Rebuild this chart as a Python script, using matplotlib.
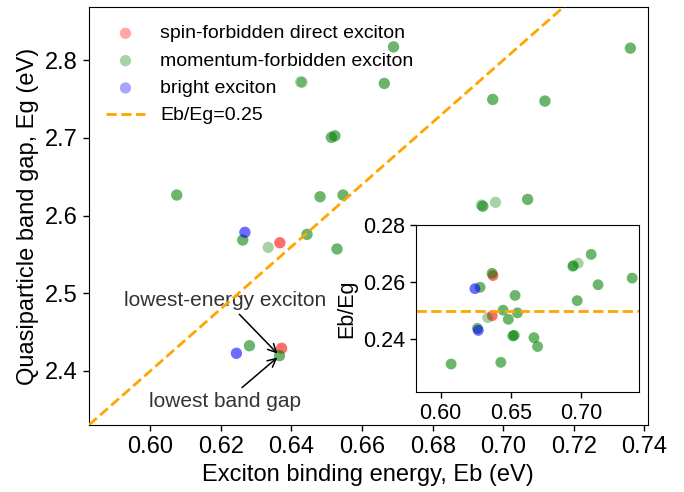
import numpy as np
import matplotlib
matplotlib.use("Agg")
import matplotlib.pyplot as plt

plt.rcParams['font.family'] = ['Liberation Sans', 'DejaVu Sans']

# Exciton binding energy Eb (eV) and quasiparticle band gap Eg (eV), by exciton type.
# Repeated entries are materials that appear in more than one data set.
spin_eb = [0.6367, 0.6367, 0.6372, 0.6372]
spin_eg = [2.565, 2.565, 2.4292, 2.4292]

momentum_eb = [0.6075, 0.6075, 0.6262, 0.6262, 0.6281, 0.6281, 0.6334,
               0.6366, 0.6366, 0.6444, 0.6444, 0.6481, 0.6481, 0.6513, 0.6513,
               0.6523, 0.6523, 0.6529, 0.6529, 0.6546, 0.6546, 0.6426, 0.6430,
               0.6663, 0.6663, 0.6689, 0.6689, 0.6942, 0.6942, 0.6938, 0.6978,
               0.7069, 0.7069, 0.6970, 0.6970, 0.7118, 0.7118, 0.7360, 0.7360]
momentum_eg = [2.6264, 2.6264, 2.5685, 2.5685, 2.4325, 2.4325, 2.5590,
               2.4197, 2.4197, 2.5758, 2.5758, 2.6242, 2.6242, 2.7006, 2.7006,
               2.7026, 2.7026, 2.5570, 2.5570, 2.6264, 2.6264, 2.7720, 2.7716,
               2.7700, 2.7700, 2.8170, 2.8170, 2.6120, 2.6120, 2.6135, 2.6170,
               2.6208, 2.6208, 2.7494, 2.7494, 2.7473, 2.7473, 2.8154, 2.8154]

bright_eb = [0.6268, 0.6268, 0.6244, 0.6244]
bright_eg = [2.5784, 2.5784, 2.4228, 2.4228]

ratio_ref = 0.25
lowest_gap = (0.6366, 2.4197)

main_xticks = [0.60, 0.62, 0.64, 0.66, 0.68, 0.70, 0.72, 0.74]
main_yticks = [2.4, 2.5, 2.6, 2.7, 2.8]
inset_xticks = [0.60, 0.65, 0.70]
inset_yticks = [0.24, 0.26, 0.28]

groups = [
    (spin_eb, spin_eg, 'red', 'spin-forbidden direct exciton'),
    (momentum_eb, momentum_eg, 'green', 'momentum-forbidden exciton'),
    (bright_eb, bright_eg, 'blue', 'bright exciton'),
]

fig = plt.figure(figsize=(6.84, 4.92), dpi=100)
ax = fig.add_axes([0.1294, 0.1362, 0.818, 0.849])

for eb, eg, c, lab in groups:
    ax.scatter(eb, eg, s=66, color=c, alpha=0.35, edgecolors='none', label=lab)

xline = np.array([0.55, 0.78])
ax.plot(xline, xline / ratio_ref, '--', color='orange', lw=2,
        label='Eb/Eg=%.2f' % ratio_ref, zorder=4)

arrow = dict(arrowstyle='->', color='black', lw=1.1)
ax.annotate('lowest-energy exciton', xy=lowest_gap, xytext=(0.6213, 2.4913),
            ha='center', va='center', fontsize=15, color='#333333',
            arrowprops=arrow, zorder=1.5)
ax.annotate('lowest band gap', xy=lowest_gap, xytext=(0.6213, 2.3605),
            ha='center', va='center', fontsize=15, color='#333333',
            arrowprops=arrow, zorder=1.5)

ax.set_xlim(0.5825, 0.741)
ax.set_ylim(2.3305, 2.868)
ax.set_xticks(main_xticks)
ax.set_xticklabels(['%.2f' % v for v in main_xticks])
ax.set_yticks(main_yticks)
ax.set_yticklabels(['%.1f' % v for v in main_yticks])
ax.tick_params(labelsize=17, length=4.5, width=1)
ax.set_xlabel('Exciton binding energy, Eb (eV)', fontsize=17)
ax.set_ylabel('Quasiparticle band gap, Eg (eV)', fontsize=17)
ax.legend(loc='upper left', frameon=False, fontsize=14)

# Inset: ratio Eb/Eg against Eb
axin = fig.add_axes([0.608, 0.2026, 0.3265, 0.340])
for eb, eg, c, lab in groups:
    r = np.array(eb) / np.array(eg)
    axin.scatter(eb, r, s=60, color=c, alpha=0.35, edgecolors='none')
axin.axhline(ratio_ref, ls='--', color='orange', lw=2)
axin.set_xlim(0.5825, 0.741)
axin.set_ylim(0.2214, 0.28)
axin.set_xticks(inset_xticks)
axin.set_xticklabels(['%.2f' % v for v in inset_xticks])
axin.set_yticks(inset_yticks)
axin.set_yticklabels(['%.2f' % v for v in inset_yticks])
axin.tick_params(labelsize=15.5, length=4.5, width=1)
axin.set_ylabel('Eb/Eg', fontsize=15.5)

fig.savefig('out.png', dpi=100)
